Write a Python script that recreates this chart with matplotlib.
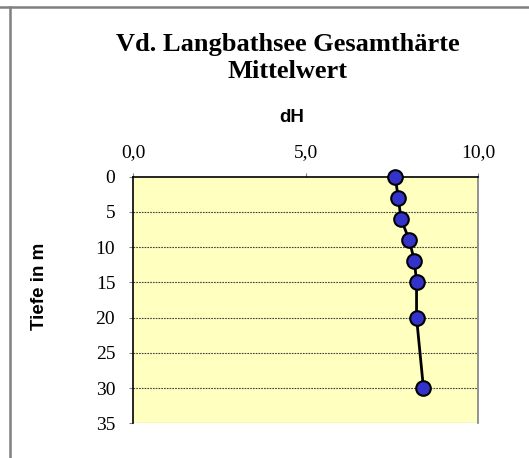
import matplotlib
matplotlib.use("Agg")
import matplotlib.pyplot as plt
from matplotlib.lines import Line2D

depth = [0, 3, 6, 9, 12, 15, 20, 30]
dh = [7.59, 7.68, 7.76, 8.0, 8.15, 8.21, 8.21, 8.41]
x_ticks = [0, 5, 10]
x_labels = ["0,0", "5,0", "10,0"]
y_ticks = [0, 5, 10, 15, 20, 25, 30, 35]

fig = plt.figure(figsize=(5.29, 4.58), dpi=100)
ax = fig.add_axes([133.3/529, 1-423.3/458, (478.3-133.3)/529, (423.3-176.7)/458])
ax.set_facecolor("#FFFFC0")

ax.set_xlim(0, 10)
ax.set_ylim(35, 0)
ax.xaxis.tick_top()
ax.set_xticks(x_ticks)
ax.set_xticklabels(x_labels)
ax.set_yticks(y_ticks)
ax.tick_params(axis="both", direction="out", length=3, color="#808080", width=0.8,
               labelsize=14)
ax.tick_params(axis="y", pad=10)
ax.tick_params(axis="x", pad=8)
for lab in ax.get_xticklabels() + ax.get_yticklabels():
    lab.set_fontfamily("Liberation Serif")

for y in y_ticks[1:]:
    ax.axhline(y, color="#404040", linestyle=(0, (1.5, 1.0)), linewidth=0.8, zorder=1)

ax.spines["top"].set_color("black")
ax.spines["top"].set_linewidth(1.2)
ax.spines["left"].set_color("black")
ax.spines["left"].set_linewidth(1.2)
ax.spines["right"].set_color("#808080")
ax.spines["right"].set_linewidth(1.2)
ax.spines["bottom"].set_visible(False)

ax.plot(dh, depth, color="black", linewidth=2, marker="o", markersize=10.5,
        markerfacecolor="#3333CC", markeredgecolor="black", markeredgewidth=1.5,
        zorder=3, clip_on=False)

fig.text(288/529, 1-44/458, "Vd. Langbathsee Gesamthärte", ha="center", va="center",
         fontsize=19, fontweight="bold", family="Liberation Serif")
fig.text(288/529, 1-72/458, "Mittelwert", ha="center", va="center",
         fontsize=19, fontweight="bold", family="Liberation Serif")
fig.text(292/529, 1-117/458, "dH", ha="center", va="center",
         fontsize=13.5, fontweight="bold", family="Liberation Sans")
fig.text(39/529, 1-286/458, "Tiefe in m", ha="center", va="center", rotation=90,
         fontsize=13.5, fontweight="bold", family="Liberation Sans")

# frame lines
fig.add_artist(Line2D([0, 1], [1-6.5/458, 1-6.5/458], color="#808080", linewidth=1.8,
                      transform=fig.transFigure))
fig.add_artist(Line2D([9.5/529, 9.5/529], [0, 1-6.5/458], color="#808080", linewidth=1.8,
                      transform=fig.transFigure))

fig.savefig("out.png", dpi=100)
